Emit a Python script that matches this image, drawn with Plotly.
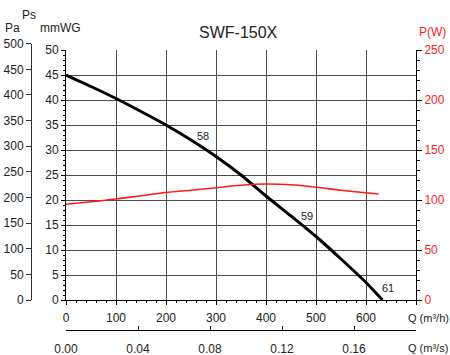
import plotly.graph_objects as go

# ---- data ----
q_fan = [0, 50, 100, 150, 200, 250, 300, 350, 400, 450, 500, 550, 600, 633]
ps_mmwg = [45, 42.7, 40.3, 37.7, 35.0, 32.0, 28.7, 25.0, 20.8, 16.8, 12.7, 8.2, 3.5, 0]

q_pow = [0, 50, 100, 150, 200, 250, 300, 350, 400, 450, 500, 550, 600, 625]
p_watt = [95.7, 98.3, 101, 104.3, 107.5, 109.8, 112.3, 114.8, 116, 115.2, 112.8, 109.8, 107.2, 106]

curve_labels = ["58", "59", "61"]
curve_label_q = [273, 482, 643]
curve_label_ps = [32.8, 16.9, 2.4]

q_h_ticks = [0, 100, 200, 300, 400, 500, 600, 700]
q_h_text = ["0", "100", "200", "300", "400", "500", "600", ""]
q_s_ticks = [0.00, 0.04, 0.08, 0.12, 0.16]
pa_ticks = list(range(0, 501, 50))
mmwg_ticks = list(range(0, 51, 5))
pw_ticks = list(range(0, 251, 50))

title = "SWF-150X"

# ---- layout helpers (pixel -> paper) ----
W, H = 450, 355
ML, MR, MT, MB = 32, 34, 43, 25
PW = W - ML - MR
PH = H - MT - MB


def px(x):
    return (x - ML) / PW


def py(y):
    return (H - MB - y) / PH


FONT = "Liberation Sans, Arial, sans-serif"
GRID = "#4d4d4d"
RED = "#ff1a1a"
TXT = "#222222"

fig = go.Figure()
fig.add_trace(go.Scatter(x=q_pow, y=p_watt, mode="lines",
                         line=dict(color=RED, width=1.6, shape="spline", smoothing=0.8),
                         xaxis="x", yaxis="y2", hoverinfo="skip", showlegend=False))
fig.add_trace(go.Scatter(x=q_fan, y=ps_mmwg, mode="lines",
                         line=dict(color="black", width=3, shape="spline", smoothing=0.7),
                         xaxis="x", yaxis="y", hoverinfo="skip", showlegend=False))
# invisible traces to activate extra axes
fig.add_trace(go.Scatter(x=[0], y=[0], mode="markers", marker=dict(opacity=0), xaxis="x3", yaxis="y3",
                         hoverinfo="skip", showlegend=False))
fig.add_trace(go.Scatter(x=[0], y=[0], mode="markers", marker=dict(opacity=0), xaxis="x2", yaxis="y",
                         hoverinfo="skip", showlegend=False))

main_dom_y = [py(300), py(50)]
xdom = [px(66), 1]

tickfont = dict(family=FONT, size=12, color=TXT)

fig.update_layout(
    width=W, height=H,
    margin=dict(l=ML, r=MR, t=MT, b=MB, pad=0, autoexpand=False),
    paper_bgcolor="white", plot_bgcolor="white",
    font=dict(family=FONT, size=12, color=TXT),
    showlegend=False,
    xaxis=dict(domain=xdom, range=[0, 700], tickmode="array", tickvals=q_h_ticks, ticktext=q_h_text,
               ticks="outside", ticklen=4, tickcolor="black", showgrid=True, gridcolor=GRID, gridwidth=1,
               showline=True, linecolor="black", linewidth=1, zeroline=False, anchor="y",
               tickfont=tickfont, automargin=False, ticklabelstandoff=3,
               minor=dict(tickmode="linear", tick0=0, dtick=20, ticks="outside", ticklen=2, tickcolor="black",
                          showgrid=False)),
    xaxis2=dict(overlaying="x", anchor="free", position=0, side="bottom", range=[0, 700 / 3600],
                tickmode="array", tickvals=q_s_ticks, tickformat=".2f", ticks="inside", ticklen=4,
                tickcolor="black", showgrid=False, showline=True, linecolor="black", linewidth=1,
                zeroline=False, tickfont=tickfont, automargin=False, ticklabelstandoff=8),
    xaxis3=dict(domain=[0, 0.01], visible=False, range=[0, 1], anchor="y3", automargin=False),
    yaxis=dict(domain=main_dom_y, range=[0, 50], tickmode="array", tickvals=mmwg_ticks, ticks="outside",
               ticklen=4, tickcolor="black", showgrid=True, gridcolor=GRID, gridwidth=1, showline=True,
               linecolor="black", linewidth=1, zeroline=False, anchor="x", tickfont=tickfont,
               automargin=False,
               minor=dict(tickmode="linear", tick0=0, dtick=1, ticks="outside", ticklen=2, tickcolor="black",
                          showgrid=False)),
    yaxis2=dict(overlaying="y", side="right", anchor="x", range=[0, 250], tickmode="array", tickvals=pw_ticks,
                ticks="outside", ticklen=5, tickcolor="black", showgrid=False, showline=True,
                linecolor="black", linewidth=1, zeroline=False, automargin=False,
                tickfont=dict(family=FONT, size=12, color=RED),
                minor=dict(tickmode="linear", tick0=0, dtick=10, ticks="outside", ticklen=3,
                           tickcolor="black", showgrid=False)),
    yaxis3=dict(domain=[py(300), py(43.7)], range=[0, 500], anchor="x3", side="left", tickmode="array",
                tickvals=pa_ticks, ticks="outside", ticklen=5, tickcolor="#333333", showgrid=False,
                showline=True, linecolor="#333333", linewidth=1, zeroline=False, tickfont=tickfont,
                automargin=False),
)

ann = []
for t, qx, yy in zip(curve_labels, curve_label_q, curve_label_ps):
    ann.append(dict(x=qx, y=yy, xref="x", yref="y", text=t, showarrow=False,
                    xanchor="center", yanchor="middle",
                    font=dict(family=FONT, size=11, color=TXT)))


def lab(x, y, text, size=12, color=TXT, xanchor="center"):
    return dict(x=px(x), y=py(y), xref="paper", yref="paper", text=text, showarrow=False,
                xanchor=xanchor, yanchor="middle", font=dict(family=FONT, size=size, color=color))


ann += [
    lab(238.7, 32.5, title, size=16),
    lab(29, 14.5, "Ps"),
    lab(12.5, 27.5, "Pa"),
    lab(60, 27.5, "mmWG"),
    lab(432, 32, "P(W)", color=RED),
    lab(406, 318, "Q (m³/h)", size=11, xanchor="left"),
    lab(406, 348, "Q (m³/s)", size=11, xanchor="left"),
]
fig.update_layout(annotations=ann)

fig.write_html("out.html", config={"displayModeBar": False},
               post_script="document.body.style.margin='0px';document.body.style.padding='0px';"
                           "document.body.style.overflow='hidden';")
